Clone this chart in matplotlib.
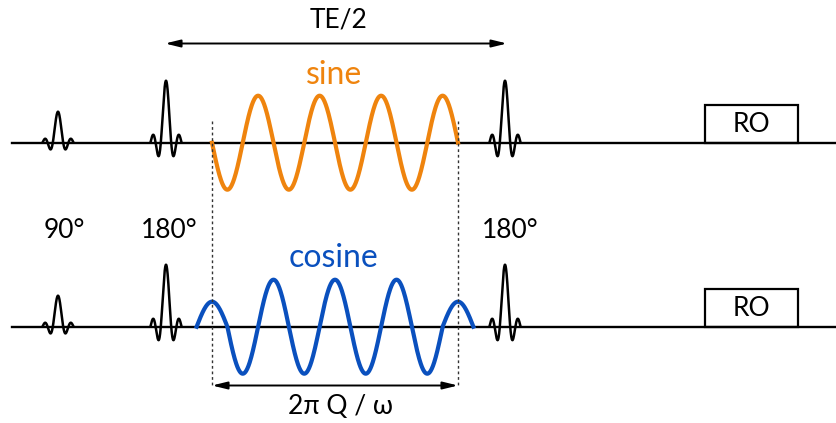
import numpy as np
import matplotlib
matplotlib.use('Agg')
import matplotlib.pyplot as plt
from matplotlib.patches import Rectangle

plt.rcParams['font.family'] = ['Lato', 'DejaVu Sans']

# channel baselines (pixel rows), top = sine, bottom = cosine
baselines = [142.7, 326.7]
line_start = 12

# RF pulses: centre, peak height
pulse_x = [58, 166, 505]
pulse_h = [31, 62, 62]
pulse_labels = ['90°', '180°', '180°']
pulse_label_x = [64, 169, 510]
pulse_label_y = 230

# readout box
ro_left, ro_right, ro_height = 705, 798, 38

# diffusion gradient window
grad_start, grad_end = 212, 458
n_cycles = 4
amp_full = 47
amp_edge = 25

orange = '#EF840E'
blue = '#0A50BE'


def sinc_pulse(ax, xc, base, h):
    t = np.linspace(-3, 3, 300)
    ax.plot(xc + t * 5.2, base - h * np.sinc(t), color='black', lw=1.8,
            solid_capstyle='round')


def main():
    fig = plt.figure(figsize=(8.36, 4.23), dpi=100)
    ax = fig.add_axes([0, 0, 1, 1])
    ax.set_xlim(0, 836)
    ax.set_ylim(423, 0)
    ax.axis('off')

    period = (grad_end - grad_start) / n_cycles

    for base in baselines:
        ax.plot([line_start, 836], [base, base], color='black', lw=1.7)
        for xc, h in zip(pulse_x, pulse_h):
            sinc_pulse(ax, xc, base, h)
        ax.add_patch(Rectangle((ro_left, base - ro_height), ro_right - ro_left,
                               ro_height, fill=False, ec='black', lw=1.6))
        ax.text((ro_left + ro_right) / 2, base - ro_height / 2 + 1, 'RO',
                ha='center', va='center', fontsize=19)

    # sine gradient
    ph = np.linspace(0, 2 * np.pi * n_cycles, 600)
    xs = grad_start + ph / (2 * np.pi) * period
    ax.plot(xs, baselines[0] + amp_full * np.sin(ph), color=orange, lw=3)

    # cosine gradient with half-amplitude edge lobes
    ph = np.linspace(-np.pi / 2, 2 * np.pi * n_cycles + np.pi / 2, 700)
    xs = grad_start + ph / (2 * np.pi) * period
    amp = np.where((ph < np.pi / 2) | (ph > 2 * np.pi * n_cycles - np.pi / 2),
                   amp_edge, amp_full)
    ax.plot(xs, baselines[1] - amp * np.cos(ph), color=blue, lw=3)

    # dotted window markers
    for x in [grad_start, grad_end]:
        ax.plot([x, x], [121, 386], color='#333333', lw=1, ls=(0, (2, 2)))

    # arrows
    arrow = dict(arrowstyle='<|-|>,head_length=0.9,head_width=0.22',
                 color='black', lw=1.4, shrinkA=0, shrinkB=0)
    ax.annotate('', xy=(165, 43.5), xytext=(507, 43.5), arrowprops=arrow)
    ax.annotate('', xy=(grad_start, 385.5), xytext=(grad_end, 385.5),
                arrowprops=arrow)

    ax.text(339, 20, 'TE/2', ha='center', va='center', fontsize=19)
    ax.text(334, 75, 'sine', ha='center', va='center', fontsize=23,
            color=orange)
    ax.text(333, 258, 'cosine', ha='center', va='center', fontsize=23,
            color=blue)
    ax.text(340, 406, '2π Q / ω', ha='center', va='center', fontsize=19)

    for x, s in zip(pulse_label_x, pulse_labels):
        ax.text(x, pulse_label_y, s, ha='center', va='center', fontsize=19)

    fig.savefig('out.png', dpi=100)


if __name__ == '__main__':
    main()
